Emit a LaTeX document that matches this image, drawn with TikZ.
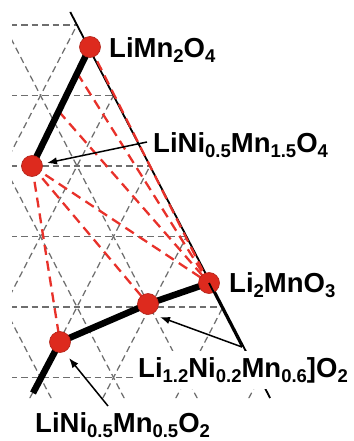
\documentclass[tikz,border=0pt]{standalone}
\usepackage{fontspec}
\setmainfont{Liberation Sans}
\usetikzlibrary{arrows.meta,calc}
\definecolor{dotred}{HTML}{DD2A1E}
\definecolor{dashred}{HTML}{E8312A}
\definecolor{gridgray}{HTML}{6E6E6E}
\newcommand\sbx[1]{\raisebox{-5pt}{\fontsize{18.5}{18.5}\selectfont #1}}
\begin{document}
\begin{tikzpicture}[x=1pt,y=-1pt,
  gridline/.style={gridgray, line width=1.25pt, dash pattern=on 6.5pt off 4pt},
  edgeline/.style={black, line width=1.8pt},
  tieline/.style={dashred, line width=2.3pt, dash pattern=on 10pt off 6pt},
  thickline/.style={black, line width=6.5pt, line cap=round},
  pointer/.style={black, line width=1.5pt, -{Latex[length=10pt,width=7.5pt]}},
  dot/.style={circle, fill=dotred, draw=dotred!80!black, line width=0.6pt, minimum size=21pt, inner sep=0pt},
  lab/.style={font=\fontsize{27.5}{30}\selectfont\bfseries, inner sep=0pt, anchor=base west}]
\useasboundingbox (0,0) rectangle (353,441);
% positions
\coordinate (A) at (90,47);
\coordinate (B) at (32,166);
\coordinate (C) at (209,283);
\coordinate (D) at (148,304);
\coordinate (E) at (60,342);
\coordinate (P1) at ($(A)!0.22!(B)$);
\coordinate (P2) at ($(A)!0.54!(B)$);
\coordinate (Etail) at (33,393);
\coordinate (Top) at (70.27,12);
\coordinate (Bot) at (270.1,398);
\coordinate (apex) at (242,347);
% grid (clipped)
\begin{scope}
\clip (12,12) -- (Top) -- (Bot) -- (12,398) -- cycle;
\foreach \k in {-1,...,6} \draw[gridline] (0,25+70.5*\k) -- (360,25+70.5*\k);
\foreach \m in {-6,...,4} \draw[gridline] (4+73*\m-36.5,-45.5) -- (4+73*\m+219,448);
\foreach \m in {-1,...,9} \draw[gridline] (4+73*\m+36.5,-45.5) -- (4+73*\m-219,448);
\end{scope}
% edge line
\draw[edgeline] (Top) -- (Bot);
% tie lines
\draw[tieline] (A) -- (C);
\draw[tieline] (P1) -- (C);
\draw[tieline] (P2) -- (C);
\draw[tieline] (B) -- (C);
\draw[tieline] (B) -- (D);
\draw[tieline] (B) -- (E);
% thick lines
\draw[thickline] (A) -- (B);
\draw[thickline, line cap=butt] (Etail) -- (E) -- (D) -- (C);
% dots
\node[dot] (dA) at (A) {};
\node[dot] (dB) at (B) {};
\node[dot] (dC) at (C) {};
\node[dot] (dD) at (D) {};
\node[dot] (dE) at (E) {};
% labels
\node[lab] (lA) at (109,58) {LiMn\sbx{2}O\sbx{4}};
\node[lab] (lB) at (153,152) {LiNi\sbx{0.5}Mn\sbx{1.5}O\sbx{4}};
\node[lab] (lC) at (229,292) {Li\sbx{2}MnO\sbx{3}};
\node[lab, fill=white, inner xsep=3pt, inner ysep=6pt] (lD) at (135,377) {Li\sbx{1.2}Ni\sbx{0.2}Mn\sbx{0.6}]O\sbx{2}};
\node[lab] (lE) at (35,432) {LiNi\sbx{0.5}Mn\sbx{0.5}O\sbx{2}};
% pointers
\coordinate (sB) at (147,142);
\coordinate (tB) at (47,163);
\coordinate (tD) at (160,317);
\coordinate (sE) at (108,406);
\coordinate (tE) at (69,358);
\draw[pointer] (sB) -- (tB);
\draw[black, line width=1.8pt] (apex) -- (C);
\draw[pointer] (apex) -- (tD);
\draw[pointer] (sE) -- (tE);
\end{tikzpicture}
\end{document}
